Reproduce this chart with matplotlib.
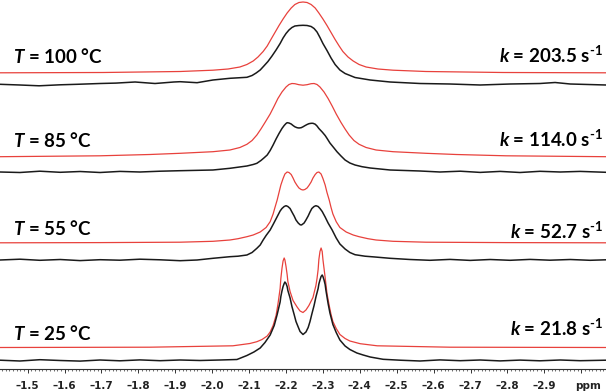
import matplotlib
matplotlib.use('Agg')
import matplotlib.pyplot as plt
from matplotlib.ticker import MultipleLocator, FuncFormatter

plt.rcParams['mathtext.fontset'] = 'custom'
plt.rcParams['mathtext.rm'] = 'Lato:bold'
plt.rcParams['mathtext.it'] = 'Lato:bold:italic'
plt.rcParams['mathtext.bf'] = 'Lato:bold'

temps = ['100', '85', '55', '25']
rates = ['203.5', '114.0', '52.7', '21.8']

# simulated spectra (red), intensity above own baseline
sim100_ppm = [-1.425, -1.704, -1.913, -2.002, -2.043, -2.075, -2.094, -2.111, -2.124, -2.138, -2.149, -2.159, -2.170, -2.181,
              -2.192, -2.203, -2.214, -2.224, -2.235, -2.246, -2.257, -2.268, -2.279, -2.289, -2.300, -2.311, -2.322, -2.333,
              -2.344, -2.354, -2.368, -2.382, -2.398, -2.417, -2.449, -2.490, -2.579, -2.788, -3.067]
sim100_int = [0.2, 0.5, 1.5, 2.8, 4, 6, 8.5, 12, 16, 21.5, 27, 33.5, 40.5, 47.5,
              54, 60, 65, 68.5, 70.5, 71, 70.5, 68.5, 65, 60, 54, 47.5, 40.5, 33.5,
              27, 21.5, 16, 12, 8.5, 6, 4, 2.8, 1.5, 0.5, 0.2]

sim85_ppm = [-1.425, -1.696, -1.831, -1.913, -2.002, -2.048, -2.075, -2.094, -2.108, -2.121, -2.132, -2.143, -2.157, -2.168,
             -2.178, -2.189, -2.200, -2.208, -2.216, -2.224, -2.235, -2.246, -2.257, -2.268, -2.276, -2.284, -2.292, -2.303,
             -2.314, -2.325, -2.336, -2.349, -2.360, -2.371, -2.384, -2.398, -2.417, -2.444, -2.490, -2.579, -2.661, -2.796, -3.067]
sim85_int = [0.3, 1.2, 2.5, 3.7, 5.3, 7, 9.5, 12.7, 16.5, 22, 28, 34.5, 43, 51,
             58.5, 65, 70, 72.5, 73.5, 73.3, 72.3, 71.8, 72.3, 73.3, 73.5, 72.5, 70, 65,
             58.5, 51, 43, 34.5, 28, 22, 16.5, 12.7, 9.5, 7, 5.3, 3.7, 2.5, 1.2, 0.3]

sim55_ppm = [-1.425, -1.696, -1.913, -2.002, -2.048, -2.070, -2.094, -2.111, -2.130, -2.146, -2.157, -2.165, -2.170, -2.176,
             -2.181, -2.186, -2.192, -2.197, -2.203, -2.208, -2.214, -2.219, -2.224, -2.230, -2.235, -2.241, -2.246, -2.251,
             -2.257, -2.262, -2.268, -2.273, -2.279, -2.284, -2.289, -2.295, -2.300, -2.306, -2.311, -2.317, -2.322, -2.327,
             -2.336, -2.346, -2.363, -2.382, -2.398, -2.422, -2.444, -2.490, -2.579, -2.796, -3.067]
sim55_int = [0.2, 0.4, 0.8, 1.7, 3, 4.3, 6.3, 8, 11, 15.5, 21.3, 29, 35.5, 43,
             50.5, 58, 64.5, 69, 71, 70.5, 68.5, 65, 61, 57.5, 55, 53.5, 53, 53.5,
             55, 57.5, 61, 65, 68.5, 70.5, 71, 69, 64.5, 58, 50.5, 43, 35.5, 29,
             21.3, 15.5, 11, 8, 6.3, 4.3, 3, 1.7, 0.8, 0.4, 0.2]

sim25_ppm = [-1.425, -1.831, -2.056, -2.102, -2.121, -2.135, -2.149, -2.157, -2.165, -2.173, -2.178, -2.184, -2.186, -2.189,
             -2.192, -2.195, -2.197, -2.200, -2.203, -2.205, -2.211, -2.219, -2.230, -2.238, -2.246, -2.254, -2.262, -2.273,
             -2.281, -2.284, -2.287, -2.289, -2.292, -2.295, -2.298, -2.300, -2.303, -2.306, -2.311, -2.317, -2.322, -2.327,
             -2.336, -2.346, -2.360, -2.373, -2.401, -2.447, -2.644, -3.067]
sim25_int = [0, 0.3, 1.7, 4, 5.8, 8, 11.5, 15.5, 22, 32, 43, 59, 69, 79,
             86.5, 89.5, 87.5, 81, 73, 66, 56, 47, 40.5, 36.5, 35, 37.5, 42, 50,
             62, 69, 78, 88, 96, 99.5, 96, 88, 79, 70, 54, 42, 33, 26,
             19, 13, 9, 6.5, 3.8, 1.7, 0.3, 0]

# experimental spectra (black)
exp100_ppm = [-1.425, -1.479, -1.531, -1.588, -1.634, -1.696, -1.739, -1.791, -1.845, -1.896, -1.913, -1.959, -2.002, -2.048,
              -2.094, -2.108, -2.119, -2.130, -2.140, -2.151, -2.162, -2.173, -2.184, -2.192, -2.200, -2.208, -2.216, -2.224,
              -2.235, -2.246, -2.257, -2.268, -2.276, -2.284, -2.292, -2.300, -2.311, -2.322, -2.333, -2.346, -2.360, -2.387,
              -2.428, -2.482, -2.563, -2.644, -2.726, -2.807, -2.888, -2.929, -2.970, -3.067]
exp100_int = [0.2, -0.5, -1.3, -0.3, 0.2, 1.0, 1.4, 2.5, 1.0, 2.5, 2.8, 1.8, 4.5, 6.2,
              7.2, 9, 11.5, 14.5, 18.5, 23, 28.5, 34.5, 41, 46.5, 51, 54.5, 57, 58.5,
              59, 59.2, 59, 58, 56, 52.5, 47, 41, 34, 26.5, 20, 14.5, 11, 7,
              4.5, 2.5, 1.0, 0.5, -0.5, 0.5, 1.0, 2.0, 0.5, -0.5]

exp85_ppm = [-1.425, -1.479, -1.533, -1.588, -1.642, -1.696, -1.750, -1.804, -1.859, -1.913, -2.002, -2.048, -2.094, -2.111,
             -2.121, -2.132, -2.140, -2.149, -2.157, -2.165, -2.173, -2.181, -2.189, -2.195, -2.200, -2.203, -2.208, -2.214,
             -2.219, -2.224, -2.230, -2.235, -2.241, -2.246, -2.251, -2.257, -2.262, -2.268, -2.273, -2.279, -2.284, -2.289,
             -2.298, -2.306, -2.311, -2.319, -2.330, -2.338, -2.349, -2.360, -2.373, -2.387, -2.406, -2.428, -2.482, -2.563,
             -2.617, -2.672, -2.726, -2.780, -2.834, -2.888, -2.943, -2.997, -3.067]
exp85_int = [0, -0.5, 0.8, -0.3, 0.5, -0.5, 0.6, 0, 0.8, 1.3, 2, 3.7, 6, 7.5,
             8.7, 11.5, 14, 17, 21.5, 27, 33, 38.5, 43.5, 46.5, 48.5, 49.3, 49, 48,
             46.5, 45.2, 44.3, 44, 44.3, 45.2, 46.3, 47.5, 48.3, 48.7, 48.7, 47.8, 46, 43.5,
             40, 36.5, 33.7, 29, 24, 20.3, 16, 12, 9, 7, 5.3, 4, 2, 1,
             0, 0.8, -0.4, 0.6, -0.5, 0.7, 0, 0.6, -0.3]

exp55_ppm = [-1.425, -1.479, -1.533, -1.588, -1.642, -1.696, -1.750, -1.804, -1.859, -1.913, -1.959, -2.002, -2.048, -2.070,
             -2.094, -2.108, -2.121, -2.130, -2.138, -2.146, -2.157, -2.165, -2.176, -2.184, -2.189, -2.195, -2.200, -2.205,
             -2.211, -2.216, -2.222, -2.227, -2.233, -2.238, -2.241, -2.243, -2.249, -2.254, -2.260, -2.265, -2.270, -2.276,
             -2.281, -2.287, -2.292, -2.298, -2.306, -2.314, -2.325, -2.336, -2.346, -2.360, -2.373, -2.387, -2.414, -2.441,
             -2.482, -2.536, -2.590, -2.644, -2.699, -2.753, -2.807, -2.861, -2.915, -2.970, -3.024, -3.067]
exp55_int = [0, 0.8, -0.3, 0.5, -0.6, 0.3, -0.2, 0.8, 0.2, -0.7, 0, 1.7, 3.3, 3.8,
             5, 7.5, 11.7, 15, 20, 24.5, 30, 35.5, 43.3, 49, 51.5, 53.5, 54.3, 53.5,
             51.5, 48, 44, 40, 37, 35.3, 35, 35.3, 37, 40, 44, 48, 51.5, 53.5,
             54.3, 53.5, 51.5, 48.5, 43, 37, 30, 22, 16, 11, 7.5, 5.3, 3.8, 3,
             1.7, 0.5, -0.3, 0.6, -0.4, 0.5, -0.3, 0.6, -0.2, 0.5, -0.3, 0.2]

exp25_ppm = [-1.425, -1.479, -1.533, -1.588, -1.642, -1.696, -1.750, -1.804, -1.859, -1.913, -1.967, -2.021, -2.067, -2.094,
             -2.113, -2.130, -2.143, -2.157, -2.168, -2.176, -2.184, -2.186, -2.189, -2.192, -2.195, -2.197, -2.200, -2.203,
             -2.205, -2.211, -2.216, -2.222, -2.227, -2.233, -2.238, -2.246, -2.254, -2.260, -2.265, -2.270, -2.276, -2.281,
             -2.287, -2.289, -2.292, -2.295, -2.298, -2.300, -2.303, -2.306, -2.308, -2.314, -2.319, -2.327, -2.336, -2.346,
             -2.360, -2.373, -2.392, -2.409, -2.428, -2.463, -2.509, -2.563, -2.617, -2.672, -2.726, -2.780, -2.834, -2.888,
             -2.943, -2.997, -3.067]
exp25_int = [0.3, -0.5, 0.8, 0, -0.6, 0.5, -0.3, 0.6, -0.2, 0.5, 0, 0.5, 1, 5,
             8.5, 12.5, 18, 25.5, 35, 46, 58.5, 64, 69.5, 74, 77, 78.5, 77, 74,
             70, 62.5, 54, 46, 39, 33.5, 29, 26, 28.5, 33, 39, 46.5, 55, 63.5,
             72, 76.5, 80.5, 84, 85.5, 84, 80.5, 76, 70.5, 57, 47.5, 36, 28, 20.5,
             14.5, 11, 7.5, 5.5, 3.5, 1.2, 0.3, -0.5, 0.6, -0.2, 0.5, -0.4, 0.4, -0.3,
             0.5, -0.2, 0.3]

sim_ppm = [sim100_ppm, sim85_ppm, sim55_ppm, sim25_ppm]
sim_int = [sim100_int, sim85_int, sim55_int, sim25_int]
exp_ppm = [exp100_ppm, exp85_ppm, exp55_ppm, exp25_ppm]
exp_int = [exp100_int, exp85_int, exp55_int, exp25_int]

# stacking offsets of each trace
sim_offset = [296, 212, 126, 21.5]
exp_offset = [284.5, 197, 109, 8.5]
label_y = [306, 222, 134, 29]
klabel_y = [306, 222, 130, 33]

fig = plt.figure(figsize=(6.06, 3.91), dpi=100)
ax = fig.add_axes([0, 22 / 391, 1, 369 / 391])

for i in range(4):
    ax.plot(sim_ppm[i], [v + sim_offset[i] for v in sim_int[i]], color='#e8413c', lw=0.9, clip_on=False)
    ax.plot(exp_ppm[i], [v + exp_offset[i] for v in exp_int[i]], color='#1a1a1a', lw=1.1, clip_on=False)
    ax.text(-1.460, label_y[i], r'$\mathit{T}$ = ' + temps[i] + ' °C', fontsize=13.5, family='Lato',
            weight='bold', ha='left', va='baseline')
    ax.text(-3.060, klabel_y[i], r'$\mathit{k}$ = ' + rates[i] + r' s$^{\text{-1}}$', fontsize=13.5, family='Lato',
            weight='bold', ha='right', va='baseline')

ax.set_xlim(-1.425, -3.067)
ax.set_ylim(0, 369)
for s in ['top', 'left', 'right']:
    ax.spines[s].set_visible(False)
ax.spines['bottom'].set_color('#333333')
ax.spines['bottom'].set_linewidth(0.8)
ax.set_yticks([])

ax.xaxis.set_major_locator(MultipleLocator(0.1))
ax.xaxis.set_minor_locator(MultipleLocator(0.01))

def fmt(v, pos):
    if v > -1.45 or v < -2.95:
        return ''
    return '\u2013%.1f' % abs(v)

ax.xaxis.set_major_formatter(FuncFormatter(fmt))
ax.tick_params(axis='x', which='major', length=3, width=0.7, color='#333333', pad=5.5,
               labelsize=7.5)
ax.tick_params(axis='x', which='minor', length=1.5, width=0.5, color='#333333')
for lab in ax.get_xticklabels():
    lab.set_family('DejaVu Sans')
    lab.set_fontweight('bold')
    lab.set_color('#222222')
ax.text(-3.018, -0.045, 'ppm', transform=ax.get_xaxis_transform(), fontsize=7.5,
        family='DejaVu Sans', weight='bold', color='#222222', ha='center', va='center')

fig.savefig('out.png', dpi=100)
